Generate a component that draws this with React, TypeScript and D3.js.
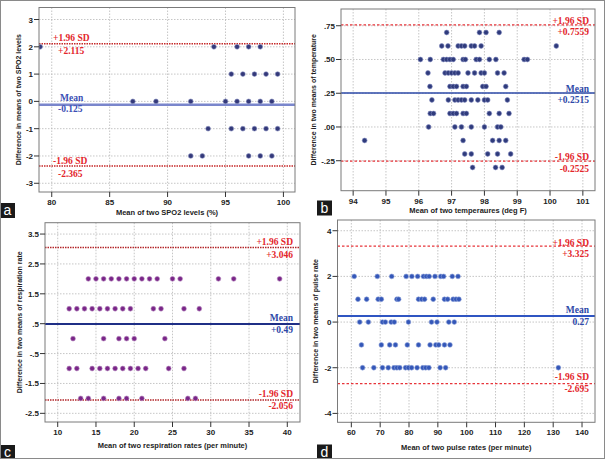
import React from "react";
import * as d3 from "d3";

// ---------- Data ----------
// Panel a: SPO2 (mean, difference)
const spo2Means = [79, 94, 96, 97, 98, 95.5, 96.5, 97.5, 98.5, 99.5, 87, 89, 92, 95, 96, 97, 98, 99, 93.5, 95.5, 96.5, 97.5, 98.5, 99.5, 92, 93, 97, 98, 99];
const spo2Diffs = [2, 2, 2, 2, 2, 1, 1, 1, 1, 1, 0, 0, 0, 0, 0, 0, 0, 0, -1, -1, -1, -1, -1, -1, -2, -2, -2, -2, -2];
const spo2Lines = [2.115, -0.125, -2.365];
const spo2LineLabels = ["+2.115", "-0.125", "-2.365"];
const spo2XTicks = [80, 85, 90, 95, 100];
const spo2YTicks = [3, 2, 1, 0, -1, -2, -3];

// Panel b: temperature
const tempRows: [number, number[]][] = [
  [0.7, [96.85, 97.85, 98.05, 98.45]],
  [0.6, [96.7, 96.89, 97.2, 97.3, 97.4, 97.6, 97.7, 97.9, 100.19]],
  [0.5, [96.05, 96.35, 96.75, 96.85, 96.95, 97.05, 97.35, 97.42, 97.75, 97.85, 98.15, 98.35, 99.21, 99.31]],
  [0.4, [96.28, 96.8, 96.9, 97.0, 97.1, 97.2, 97.5, 97.7, 97.9, 98.0, 98.4, 98.6]],
  [0.3, [96.34, 96.95, 97.05, 97.15, 97.35, 97.45, 97.95, 98.05, 98.65]],
  [0.2, [96.4, 96.9, 97.1, 97.2, 97.3, 97.4, 97.6, 97.8, 98.0, 98.1, 98.7]],
  [0.1, [96.35, 96.45, 96.95, 97.05, 97.15, 97.35, 97.45, 98.15, 98.45, 98.75]],
  [0.0, [96.3, 97.1, 97.3, 97.6, 98.0, 98.4, 98.5]],
  [-0.1, [94.35, 97.35, 98.25, 98.45, 98.65]],
  [-0.2, [97.4, 97.6, 98.1, 98.4, 98.8]],
  [-0.3, [97.64, 98.34, 98.54]],
];
const tempLines = [0.7559, 0.2515, -0.2525];
const tempLineLabels = ["+0.7559", "+0.2515", "-0.2525"];
const tempXTicks = [94, 95, 96, 97, 98, 99, 100, 101];
const tempYTicks = [0.75, 0.5, 0.25, 0, -0.25];

// Panel c: respiration
const respRows: [number, number[]][] = [
  [2, [14, 15, 16, 17, 18, 19, 20, 21, 22, 23, 25, 26, 31, 33, 39]],
  [1, [11.5, 12.5, 13.5, 14.5, 15.5, 16.5, 17.5, 18.5, 19.5, 22.5, 23.5, 26.5, 28.5]],
  [0, [12, 16, 18, 19, 20, 24]],
  [-1, [11.5, 12.5, 14.5, 15.5, 16.5, 17.5, 18.5, 19.5, 20.5, 21.5, 24.5, 26.5]],
  [-2, [13, 14, 16, 18, 19, 21, 27, 28]],
];
const respLines = [3.046, 0.49, -2.056];
const respLineLabels = ["+3.046", "+0.49", "-2.056"];
const respXTicks = [10, 15, 20, 25, 30, 35, 40];
const respYTicks = [3.5, 2.5, 1.5, 0.5, -0.5, -1.5, -2.5];

// Panel d: pulse
const pulseRows: [number, number[]][] = [
  [2, [61, 69, 74, 79, 81, 83, 85, 86, 87, 89, 91, 92, 95, 97]],
  [1, [62.3, 65.3, 69.3, 70.4, 75.8, 76.4, 83.3, 84.4, 85.4, 88.4, 92.3, 93.4, 95.3, 96.3, 97.3]],
  [0, [62.9, 65.9, 70.8, 71.8, 73.8, 74.9, 79.8, 87.8, 89.7, 93.8, 95.7]],
  [-1, [63.5, 70.4, 73.3, 75.3, 79.4, 83.3, 87.3, 89.3, 90.3, 92.3, 94.2]],
  [-2, [63.9, 67.8, 70.8, 72.8, 74.8, 75.8, 76.8, 78.8, 79.8, 80.9, 82.8, 84.8, 85.8, 86.9, 90.8, 92.7, 131.8]],
];
const pulseLines = [3.325, 0.27, -2.695];
const pulseLineLabels = ["+3.325", "0.27", "-2.695"];
const pulseXTicks = [60, 70, 80, 90, 100, 110, 120, 130, 140];
const pulseYTicks = [4, 2, 0, -2, -4];

const rowsToPoints = (rows: [number, number[]][]) =>
  rows.flatMap(([d, xs]) => xs.map((x) => ({ x, y: d })));

const stripZero = (v: number, digits: number) => {
  const s = v.toFixed(digits);
  return s.replace(/^(-?)0\./, "$1.");
};

type PanelProps = {
  box: { left: number; top: number; right: number; bottom: number };
  xDomain: [number, number];
  yDomain: [number, number];
  xTicks: number[];
  yTicks: number[];
  yFmt: (v: number) => string;
  points: { x: number; y: number }[];
  lines: number[];
  lineLabels: string[];
  labelSide: "left" | "right";
  labelX: number;
  labelYs: number[]; // y positions (absolute) for 6 labels
  xTitle: string;
  yTitle: string;
  xTitleY: number;
  yTitleX: number;
  dotColor: string;
  dotStroke: string;
  meanColor: string;
  meanWidth: number;
  sdColor: string;
  sdDash: string;
  sdWidth: number;
  meanTextColor: string;
};

function Panel(p: PanelProps) {
  const { box } = p;
  const x = d3.scaleLinear().domain(p.xDomain).range([box.left, box.right]);
  const y = d3.scaleLinear().domain(p.yDomain).range([box.bottom, box.top]);
  const sans = "'Liberation Sans', Arial, sans-serif";
  const serif = "'Liberation Serif', 'Times New Roman', serif";
  const anchor = p.labelSide === "left" ? "start" : "end";
  const labelTexts = ["+1.96 SD", p.lineLabels[0], "Mean", p.lineLabels[1], "-1.96 SD", p.lineLabels[2]];
  const labelColors = ["#e3262b", "#e3262b", p.meanTextColor, p.meanTextColor, "#e3262b", "#e3262b"];
  const labelXs = p.labelSide === "left" ? [p.labelX, p.labelX + 5, p.labelX + 7, p.labelX + 5, p.labelX, p.labelX + 5] : [p.labelX, p.labelX, p.labelX, p.labelX, p.labelX, p.labelX];
  const cy = (box.top + box.bottom) / 2;
  return (
    <g>
      <rect x={box.left} y={box.top} width={box.right - box.left} height={box.bottom - box.top} fill="#fff" />
      <defs>
        <clipPath id={`clip-${box.left}-${box.top}`}>
          <rect x={box.left} y={box.top} width={box.right - box.left} height={box.bottom - box.top} />
        </clipPath>
      </defs>
      {/* grid */}
      {p.xTicks.map((t) => (
        <line key={`gx${t}`} x1={x(t)} x2={x(t)} y1={box.top} y2={box.bottom} stroke="#b8b8b8" strokeWidth={0.8} strokeDasharray="1.5,1.5" />
      ))}
      {p.yTicks.map((t) => (
        <line key={`gy${t}`} x1={box.left} x2={box.right} y1={y(t)} y2={y(t)} stroke="#b8b8b8" strokeWidth={0.8} strokeDasharray="1.5,1.5" />
      ))}
      {/* reference lines */}
      <line x1={box.left} x2={box.right} y1={y(p.lines[0])} y2={y(p.lines[0])} stroke={p.sdColor} strokeWidth={p.sdWidth} strokeDasharray={p.sdDash} />
      <line x1={box.left} x2={box.right} y1={y(p.lines[2])} y2={y(p.lines[2])} stroke={p.sdColor} strokeWidth={p.sdWidth} strokeDasharray={p.sdDash} />
      <line x1={box.left} x2={box.right} y1={y(p.lines[1])} y2={y(p.lines[1])} stroke={p.meanColor} strokeWidth={p.meanWidth} />
      {/* points */}
      <g clipPath={`url(#clip-${box.left}-${box.top})`}>
        {p.points.map((d, i) => (
          <circle key={i} cx={x(d.x)} cy={y(d.y)} r={2.4} fill={p.dotColor} stroke={p.dotStroke} strokeWidth={0.6} />
        ))}
      </g>
      {/* frame */}
      <rect x={box.left} y={box.top} width={box.right - box.left} height={box.bottom - box.top} fill="none" stroke="#7a7a7a" strokeWidth={1} />
      {/* x axis ticks */}
      {p.xTicks.map((t) => (
        <g key={`xt${t}`}>
          <line x1={x(t)} x2={x(t)} y1={box.bottom} y2={box.bottom + 5} stroke="#333" strokeWidth={1} />
          <text x={x(t)} y={box.bottom + 13} textAnchor="middle" fontFamily={sans} fontSize={8} fontWeight="bold" fill="#222">
            {t}
          </text>
        </g>
      ))}
      {p.yTicks.map((t) => (
        <g key={`yt${t}`}>
          <line x1={box.left - 5} x2={box.left} y1={y(t)} y2={y(t)} stroke="#333" strokeWidth={1} />
          <text x={box.left - 6} y={y(t) + 3} textAnchor="end" fontFamily={sans} fontSize={8} fontWeight="bold" fill="#222">
            {p.yFmt(t)}
          </text>
        </g>
      ))}
      {/* titles */}
      <text x={(box.left + box.right) / 2} y={p.xTitleY} textAnchor="middle" fontFamily={sans} fontSize={7.5} fontWeight="bold" fill="#222">
        {p.xTitle}
      </text>
      <text transform={`translate(${p.yTitleX},${cy}) rotate(-90)`} textAnchor="middle" fontFamily={sans} fontSize={7} fontWeight="bold" fill="#222">
        {p.yTitle}
      </text>
      {/* line labels */}
      {labelTexts.map((s, i) => (
        <text key={`ll${i}`} x={labelXs[i]} y={p.labelYs[i]} textAnchor={anchor} fontFamily={serif} fontSize={9.5} fontWeight="bold" fill={labelColors[i]}>
          {s}
        </text>
      ))}
    </g>
  );
}

function PanelTag({ x, y, letter }: { x: number; y: number; letter: string }) {
  return (
    <g>
      <rect x={x} y={y} width={15} height={15} fill="#1a1a1a" />
      <text x={x + 7.5} y={y + 12} textAnchor="middle" fontFamily="'Liberation Sans', Arial, sans-serif" fontSize={14} fill="#fff">
        {letter}
      </text>
    </g>
  );
}

export default function App() {
  const spo2Points = spo2Means.map((m, i) => ({ x: m, y: spo2Diffs[i] }));
  return (
    <svg width={605} height={459} style={{ position: "absolute", left: 0, top: 0, background: "#fff" }}>
      <rect x={0} y={0} width={605} height={459} fill="#fff" />
      <Panel
        box={{ left: 39, top: 7.5, right: 295, bottom: 192 }}
        xDomain={[78.9, 101]}
        yDomain={[-3.32, 3.44]}
        xTicks={spo2XTicks}
        yTicks={spo2YTicks}
        yFmt={(v) => String(v)}
        points={spo2Points}
        lines={spo2Lines}
        lineLabels={spo2LineLabels}
        labelSide="left"
        labelX={53}
        labelYs={[41, 54, 101, 112, 164, 177]}
        xTitle="Mean of two SPO2 levels (%)"
        yTitle="Difference in means of two SPO2 levels"
        xTitleY={215}
        yTitleX={21}
        dotColor="#34397a"
        dotStroke="#8890c0"
        meanColor="#7a86cc"
        meanWidth={2.5}
        sdColor="#c62a2a"
        sdDash="1.5,1"
        sdWidth={1.5}
        meanTextColor="#3b4fb5"
      />
      <Panel
        box={{ left: 341, top: 9, right: 595, bottom: 190.7 }}
        xDomain={[93.63, 101.37]}
        yDomain={[-0.472, 0.874]}
        xTicks={tempXTicks}
        yTicks={tempYTicks}
        yFmt={(v) => stripZero(v, 2)}
        points={rowsToPoints(tempRows)}
        lines={tempLines}
        lineLabels={tempLineLabels}
        labelSide="right"
        labelX={589}
        labelYs={[24, 35, 92, 103, 160, 172]}
        xTitle="Mean of two temperaures (deg F)"
        yTitle="Difference in two means of temperature"
        xTitleY={213}
        yTitleX={316}
        dotColor="#2f3b7c"
        dotStroke="#7f88bd"
        meanColor="#2d4aa8"
        meanWidth={1.6}
        sdColor="#e8343a"
        sdDash="2.5,2"
        sdWidth={1.3}
        meanTextColor="#2d48a8"
      />
      <Panel
        box={{ left: 45, top: 222.7, right: 300, bottom: 422 }}
        xDomain={[8.34, 41.66]}
        yDomain={[-2.79, 3.88]}
        xTicks={respXTicks}
        yTicks={respYTicks}
        yFmt={(v) => stripZero(v, 1)}
        points={rowsToPoints(respRows)}
        lines={respLines}
        lineLabels={respLineLabels}
        labelSide="right"
        labelX={293}
        labelYs={[244.5, 257.5, 320.5, 332.5, 396.5, 409]}
        xTitle="Mean of two respiration rates (per minute)"
        yTitle="Difference in two means of respiration rate"
        xTitleY={448}
        yTitleX={22}
        dotColor="#7a2688"
        dotStroke="#b58ac0"
        meanColor="#1f2f86"
        meanWidth={2}
        sdColor="#b3262a"
        sdDash="1.5,1"
        sdWidth={1.5}
        meanTextColor="#2d48a8"
      />
      <Panel
        box={{ left: 337.5, top: 220, right: 595, bottom: 422.3 }}
        xDomain={[55.2, 144.5]}
        yDomain={[-4.39, 4.47]}
        xTicks={pulseXTicks}
        yTicks={pulseYTicks}
        yFmt={(v) => String(v)}
        points={rowsToPoints(pulseRows)}
        lines={pulseLines}
        lineLabels={pulseLineLabels}
        labelSide="right"
        labelX={589}
        labelYs={[246, 257, 313, 325, 380, 392]}
        xTitle="Mean of two pulse rates (per minute)"
        yTitle="Difference in two means of pulse rate"
        xTitleY={450}
        yTitleX={318}
        dotColor="#3457b8"
        dotStroke="#8ea2da"
        meanColor="#2f55c2"
        meanWidth={2}
        sdColor="#e8343a"
        sdDash="2.5,2"
        sdWidth={1.3}
        meanTextColor="#2d48a8"
      />
      <PanelTag x={0} y={203} letter="a" />
      <PanelTag x={317} y={200.5} letter="b" />
      <PanelTag x={0} y={445} letter="c" />
      <PanelTag x={317} y={444.5} letter="d" />
      <rect x={0.5} y={0.5} width={604} height={458} fill="none" stroke="#8a8a8a" strokeWidth={1} />
    </svg>
  );
}
